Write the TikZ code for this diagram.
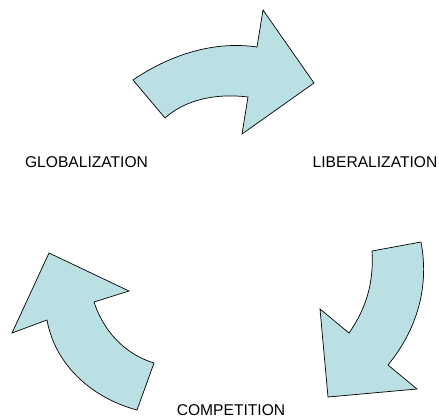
\documentclass[tikz,border=0pt]{standalone}
\usepackage{fontspec}
\setmainfont{Liberation Sans}
\definecolor{arrowfill}{RGB}{187,224,227}
\begin{document}
\begin{tikzpicture}[x=1pt,y=-1pt,
  bigarrow/.style={draw=black,fill=arrowfill,line width=0.7pt,line join=miter},
  lbl/.style={font=\fontsize{15.6}{18}\selectfont,inner sep=0pt}]
\useasboundingbox (0,0) rectangle (439,420);
% top arrow
\draw[bigarrow] (133,80) .. controls (165,58) and (210,40) .. (257,47) -- (263,10) -- (314,83) -- (242,134) -- (248,97) .. controls (215,93) and (185,100) .. (165,118) -- cycle;
% right arrow
\draw[bigarrow] (372,251) -- (421,242) .. controls (430,290) and (415,332) .. (388,365) -- (417,389) -- (328,397) -- (320,309) -- (349,333) .. controls (365,310) and (374,285) .. (372,251) -- cycle;
% left arrow
\draw[bigarrow] (49,253) -- (129,291) -- (94,302) .. controls (105,335) and (128,355) .. (154,363) -- (137,410) .. controls (92,398) and (55,365) .. (47,320) -- (12,333) -- cycle;
\node[lbl] (glob) at (86.5,162) {GLOBALIZATION};
\node[lbl] (lib) at (375,162) {LIBERALIZATION};
\node[lbl] (comp) at (231,410) {COMPETITION};
\end{tikzpicture}
\end{document}
